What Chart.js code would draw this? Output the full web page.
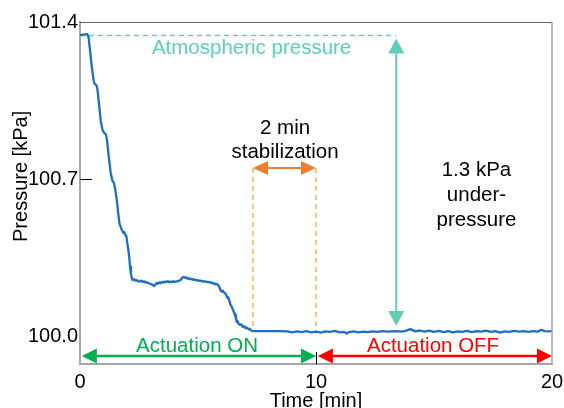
<!DOCTYPE html>
<html>
<head>
<meta charset="utf-8">
<script src="https://cdn.jsdelivr.net/npm/chart.js@4"></script>
<style>
html,body{margin:0;padding:0;background:#fff;}
#c{display:block;}
</style>
</head>
<body>
<canvas id="c" width="564" height="408"></canvas>
<script>
// ---- Data ----
const timeMin = [
  0.00,0.15,0.30,0.36,0.42,0.50,0.58,0.62,0.70,0.74,0.80,0.88,0.96,1.04,1.10,1.15,1.22,1.30,1.38,1.44,
  1.50,1.56,1.62,1.67,1.72,1.76,1.80,1.83,1.88,1.92,1.96,2.00,2.05,2.09,2.12,2.16,2.19,2.23,
  2.30,2.36,2.42,2.48,2.54,2.60,2.66,2.72,2.78,2.84,2.90,2.96,3.02,3.08,3.14,3.20,3.25,3.30,3.36,3.42,
  3.48,3.54,3.60,3.66,3.72,3.78,3.84,3.90,3.96,4.02,4.10,4.18,4.26,4.32,4.38,4.44,4.50,4.56,4.62,4.68,
  4.74,4.80,4.86,4.92,4.98,5.04,5.10,5.16,5.22,5.28,5.34,5.40,5.46,5.52,5.58,5.64,5.70,5.76,5.82,5.86,
  5.90,5.95,6.00,6.05,6.10,6.14,6.20,6.25,6.28,6.33,6.38,6.43,6.48,6.53,6.57,6.61,6.64,6.68,6.72,6.78,
  6.84,6.90,6.96,7.02,7.08,7.14,7.20,7.26,7.32,
  7.60,8.00,8.40,8.80,9.00,9.20,9.40,9.60,9.80,10.00,10.20,10.40,10.60,10.80,11.00,11.20,11.30,11.40,
  11.60,11.80,12.00,12.20,12.40,12.60,12.80,13.00,13.20,13.40,13.60,13.80,14.00,14.20,14.40,14.60,14.80,
  15.00,15.20,15.40,15.60,15.80,16.00,16.20,16.40,16.60,16.80,17.00,17.20,17.40,17.60,17.80,18.00,18.20,
  18.40,18.60,18.80,19.00,19.20,19.40,19.55,19.70,19.85,20.00
];
const pressureKPa = [
  101.342,101.344,101.346,101.335,101.280,101.200,101.140,101.125,101.118,101.100,101.040,100.960,100.918,100.905,100.900,100.870,100.800,100.730,100.692,100.684,
  100.650,100.609,100.550,100.506,100.490,100.478,100.470,100.462,100.465,100.452,100.450,100.420,100.386,100.350,100.312,100.280,100.262,100.252,
  100.256,100.249,100.252,100.246,100.245,100.250,100.244,100.247,100.241,100.243,100.238,100.236,100.234,100.231,100.226,100.233,100.239,100.236,100.242,100.238,
  100.244,100.241,100.246,100.243,100.247,100.242,100.246,100.243,100.247,100.244,100.246,100.249,100.252,100.262,100.266,100.262,100.264,100.258,100.260,100.256,
  100.258,100.253,100.255,100.251,100.252,100.249,100.250,100.247,100.248,100.245,100.246,100.243,100.244,100.241,100.242,100.236,100.238,100.233,100.234,100.230,
  100.222,100.208,100.201,100.205,100.196,100.195,100.185,100.172,100.176,100.160,100.142,100.134,100.120,100.108,100.097,100.080,100.067,100.070,100.058,100.053,
  100.055,100.044,100.047,100.038,100.041,100.033,100.035,100.028,100.025,
  100.025,100.025,100.025,100.024,100.020,100.024,100.021,100.025,100.020,100.023,100.019,100.024,100.022,100.026,100.020,100.022,100.014,100.021,
  100.024,100.020,100.023,100.021,100.024,100.022,100.025,100.023,100.024,100.025,100.023,100.026,100.034,100.024,100.028,100.023,100.027,
  100.022,100.026,100.021,100.025,100.020,100.024,100.022,100.026,100.021,100.025,100.023,100.027,100.022,100.025,100.019,100.024,100.022,
  100.026,100.023,100.025,100.022,100.025,100.023,100.031,100.025,100.024,100.025
];
const xTicks = [0, 10, 20];
const yTicks = [100.0, 100.7, 101.4];
const xRange = [0, 20];
const yRange = [99.879, 101.4];

// annotation anchors in data units
const atmosphericLevel = 101.34;
const atmosphericLineEnd = 13.4;
const underArrow = {t: 13.4, from: 101.327, to: 100.048};
const stabArrow = {from: 7.33, to: 10.0, p: 100.751, dashBottom: 100.026};
const onArrow = {from: 0.08, to: 10.0, p: 99.915};
const offArrow = {from: 10.08, to: 20.0, p: 99.915};
const labels = [
  {text: 'Atmospheric pressure', t: 7.27, p: 101.284, color: '#5ccfb9'},
  {text: '2 min', t: 8.69, p: 100.929, color: '#000'},
  {text: 'stabilization', t: 8.69, p: 100.822, color: '#000'},
  {text: '1.3 kPa', t: 16.8, p: 100.742, color: '#000'},
  {text: 'under-', t: 16.8, p: 100.631, color: '#000'},
  {text: 'pressure', t: 16.8, p: 100.520, color: '#000'},
  {text: 'Actuation ON', t: 4.96, p: 99.959, color: '#00b050'},
  {text: 'Actuation OFF', t: 14.96, p: 99.959, color: '#ff0000'}
];
const innerTicksX = [10];
const innerTicksY = [100.7];

const FONT = "'Liberation Sans', Arial, sans-serif";
const points = timeMin.map((t, i) => ({x: t, y: pressureKPa[i]}));

function arrowHead(ctx, tipX, tipY, dx, dy, len, w, color) {
  const px = -dy, py = dx;
  ctx.beginPath();
  ctx.moveTo(tipX, tipY);
  ctx.lineTo(tipX - dx * len + px * w / 2, tipY - dy * len + py * w / 2);
  ctx.lineTo(tipX - dx * len - px * w / 2, tipY - dy * len - py * w / 2);
  ctx.closePath();
  ctx.fillStyle = color;
  ctx.fill();
}
function doubleArrow(ctx, x1, y1, x2, y2, color, lw, len, w) {
  const L = Math.hypot(x2 - x1, y2 - y1);
  const dx = (x2 - x1) / L, dy = (y2 - y1) / L;
  ctx.save();
  ctx.strokeStyle = color;
  ctx.lineWidth = lw;
  ctx.beginPath();
  ctx.moveTo(x1 + dx * (len - 1), y1 + dy * (len - 1));
  ctx.lineTo(x2 - dx * (len - 1), y2 - dy * (len - 1));
  ctx.stroke();
  arrowHead(ctx, x2, y2, dx, dy, len, w, color);
  arrowHead(ctx, x1, y1, -dx, -dy, len, w, color);
  ctx.restore();
}

const annotationPlugin = {
  id: 'annotations',
  beforeDatasetsDraw(chart) {
    const {ctx, scales: {x, y}} = chart;
    ctx.save();
    // atmospheric dashed line
    ctx.strokeStyle = '#5ccfb9';
    ctx.lineWidth = 1.3;
    ctx.setLineDash([5, 4]);
    ctx.beginPath();
    ctx.moveTo(x.getPixelForValue(0), y.getPixelForValue(atmosphericLevel));
    ctx.lineTo(x.getPixelForValue(atmosphericLineEnd), y.getPixelForValue(atmosphericLevel));
    ctx.stroke();
    // stabilization dashed verticals
    ctx.strokeStyle = '#f5b447';
    ctx.lineWidth = 1.5;
    ctx.setLineDash([5, 4]);
    [stabArrow.from, stabArrow.to].forEach(t => {
      ctx.beginPath();
      ctx.moveTo(x.getPixelForValue(t), y.getPixelForValue(stabArrow.p));
      ctx.lineTo(x.getPixelForValue(t), y.getPixelForValue(stabArrow.dashBottom));
      ctx.stroke();
    });
    ctx.restore();
  },
  afterDatasetsDraw(chart) {
    const {ctx, scales: {x, y}, chartArea} = chart;
    ctx.save();
    // borders top/right
    ctx.strokeStyle = '#666';
    ctx.lineWidth = 1;
    ctx.beginPath();
    ctx.moveTo(chartArea.left, chartArea.top + 0.5);
    ctx.lineTo(chartArea.right, chartArea.top + 0.5);
    ctx.stroke();
    ctx.strokeStyle = '#a6a6a6';
    ctx.lineWidth = 1.5;
    ctx.beginPath();
    ctx.moveTo(chartArea.right, chartArea.top);
    ctx.lineTo(chartArea.right, chartArea.bottom);
    ctx.stroke();

    // under-pressure arrow
    doubleArrow(ctx, x.getPixelForValue(underArrow.t), y.getPixelForValue(underArrow.to),
      x.getPixelForValue(underArrow.t), y.getPixelForValue(underArrow.from), '#5ccfb9', 2, 15, 16);
    // stabilization arrow
    doubleArrow(ctx, x.getPixelForValue(stabArrow.from), y.getPixelForValue(stabArrow.p),
      x.getPixelForValue(stabArrow.to), y.getPixelForValue(stabArrow.p), '#ed7d31', 2, 15, 14);
    // actuation arrows
    doubleArrow(ctx, x.getPixelForValue(onArrow.from), y.getPixelForValue(onArrow.p),
      x.getPixelForValue(onArrow.to), y.getPixelForValue(onArrow.p), '#00b050', 2.5, 15, 15);
    doubleArrow(ctx, x.getPixelForValue(offArrow.from), y.getPixelForValue(offArrow.p),
      x.getPixelForValue(offArrow.to), y.getPixelForValue(offArrow.p), '#ff0000', 2.5, 15, 15);

    // inner ticks
    ctx.strokeStyle = '#000';
    ctx.lineWidth = 1;
    innerTicksX.forEach(v => {
      const px = Math.round(x.getPixelForValue(v)) + 0.5;
      ctx.beginPath();
      ctx.moveTo(px, chartArea.bottom);
      ctx.lineTo(px, chartArea.bottom - 12);
      ctx.stroke();
    });
    innerTicksY.forEach(v => {
      const py = Math.round(y.getPixelForValue(v)) + 0.5;
      ctx.beginPath();
      ctx.moveTo(chartArea.left, py);
      ctx.lineTo(chartArea.left + 12, py);
      ctx.stroke();
    });

    // text labels
    ctx.font = '20.5px ' + FONT;
    ctx.textAlign = 'center';
    ctx.textBaseline = 'middle';
    labels.forEach(l => {
      ctx.fillStyle = l.color;
      ctx.fillText(l.text, x.getPixelForValue(l.t), y.getPixelForValue(l.p));
    });

    // y axis title
    ctx.save();
    ctx.translate(21, (y.getPixelForValue(100.0) + y.getPixelForValue(101.4)) / 2 - 3);
    ctx.rotate(-Math.PI / 2);
    ctx.fillStyle = '#000';
    ctx.font = '20px ' + FONT;
    ctx.fillText('Pressure [kPa]', 0, 0);
    ctx.restore();
    ctx.restore();
  }
};

new Chart(document.getElementById('c'), {
  type: 'line',
  data: {
    datasets: [{
      data: points,
      borderColor: '#1f6fc1',
      borderWidth: 2.3,
      pointRadius: 0,
      tension: 0,
      borderJoinStyle: 'round',
      fill: false
    }]
  },
  options: {
    responsive: false,
    animation: false,
    devicePixelRatio: 1,
    layout: {padding: {top: 22, right: 12, left: 0, bottom: 0}},
    plugins: {legend: {display: false}, tooltip: {enabled: false}},
    scales: {
      x: {
        type: 'linear',
        min: xRange[0], max: xRange[1],
        afterBuildTicks: s => { s.ticks = xTicks.map(v => ({value: v})); },
        afterFit: s => { s.height = 44; s.paddingLeft = 0; s.paddingRight = 0; },
        grid: {display: false, drawTicks: false},
        border: {display: true, color: '#a6a6a6', width: 2},
        ticks: {color: '#000', padding: 6, maxRotation: 0, font: {size: 20, family: FONT}, callback: v => String(v)},
        title: {display: true, text: 'Time [min]', color: '#000', font: {size: 20, family: FONT}, padding: {top: 0, bottom: -5}}
      },
      y: {
        type: 'linear',
        min: yRange[0], max: yRange[1],
        afterBuildTicks: s => { s.ticks = yTicks.map(v => ({value: v})); },
        afterFit: s => { s.width = 80; s.paddingTop = 0; s.paddingBottom = 0; },
        grid: {display: false, drawTicks: false},
        border: {display: true, color: '#a6a6a6', width: 2},
        ticks: {color: '#000', padding: 2, font: {size: 20, family: FONT}, callback: v => Number(v).toFixed(1)}
      }
    }
  },
  plugins: [annotationPlugin]
});
</script>
</body>
</html>
